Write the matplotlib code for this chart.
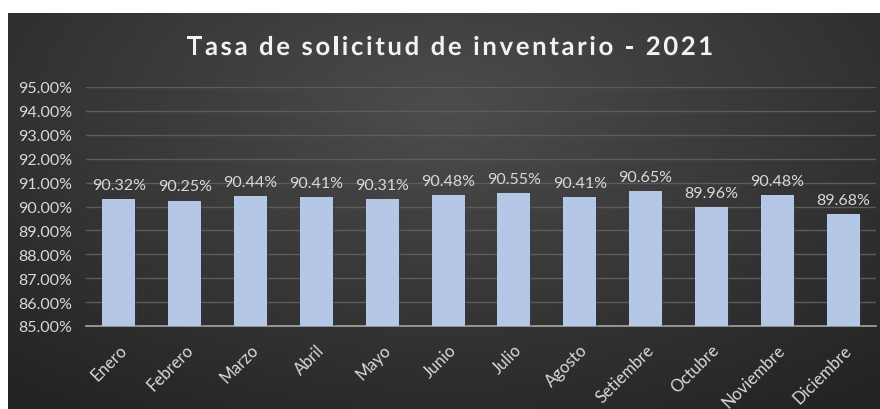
import numpy as np
import matplotlib
matplotlib.use("Agg")
import matplotlib.pyplot as plt
import matplotlib.patheffects as pe
from matplotlib.ticker import FuncFormatter, MultipleLocator

meses = ["Enero", "Febrero", "Marzo", "Abril", "Mayo", "Junio", "Julio",
         "Agosto", "Setiembre", "Octubre", "Noviembre", "Diciembre"]
tasa = [90.32, 90.25, 90.44, 90.41, 90.31, 90.48, 90.55,
        90.41, 90.65, 89.96, 90.48, 89.68]
titulo = "Tasa de solicitud de inventario - 2021"

plt.rcParams["font.family"] = ["Lato", "DejaVu Sans"]
txt = "#d9d9d9"

fig = plt.figure(figsize=(8.8, 4.1), dpi=100)
fig.patch.set_facecolor("white")

# dark radial gradient behind the chart
bg = fig.add_axes([8 / 880, 0, 872 / 880, 396 / 410])
yy, xx = np.mgrid[0:1:200j, 0:1:400j]
r = np.sqrt(((xx - 0.5) / 0.75) ** 2 + ((yy - 0.25) / 0.9) ** 2)
shade = np.clip(0.30 - 0.16 * r, 0.14, 0.30)
bg.imshow(np.dstack([shade] * 3), aspect="auto", extent=[0, 1, 0, 1], origin="upper")
bg.axis("off")

ax = fig.add_axes([86 / 880, 1 - 327 / 410, 790 / 880, 239 / 410])
ax.set_facecolor("none")
x = np.arange(len(meses))
bars = ax.bar(x, tasa, width=0.5, color="#b4c7e7", zorder=3,
              path_effects=[pe.SimplePatchShadow(offset=(1.5, -1.5), alpha=0.35), pe.Normal()])
for b, v in zip(bars, tasa):
    ax.text(b.get_x() + b.get_width() / 2, v + 0.3, f"{v:.2f}%", ha="center",
            va="bottom", color=txt, fontsize=11.5, zorder=4)

ax.set_ylim(85, 95)
ax.set_xlim(-0.5, len(meses) - 0.5)
ax.yaxis.set_major_locator(MultipleLocator(1))
ax.yaxis.set_major_formatter(FuncFormatter(lambda v, _: f"{v:.2f}%"))
ax.grid(axis="y", color="#5c5c5c", linewidth=1, zorder=0)
for s in ["top", "right", "left"]:
    ax.spines[s].set_visible(False)
ax.spines["bottom"].set_color("#a6a6a6")
ax.spines["bottom"].set_linewidth(1.2)
ax.tick_params(axis="both", length=0, colors=txt, labelsize=11.5)
ax.tick_params(axis="y", pad=10)
ax.set_xticks(x)
ax.set_xticklabels(meses, rotation=45, ha="right", rotation_mode="anchor", fontsize=12)
ax.tick_params(axis="x", pad=11)

# title with extra letter spacing, laid out one glyph at a time
renderer = fig.canvas.get_renderer()
spacing = 2.6
kw = dict(color="#f2f2f2", fontsize=18.5, fontweight="bold", va="center",
          path_effects=[pe.withSimplePatchShadow(offset=(1, -1), alpha=0.5)])
widths = []
for ch in titulo:
    t = fig.text(0, 0, ch if ch != " " else "a a", **kw)
    w = t.get_window_extent(renderer).width
    if ch == " ":
        w -= 2 * fig.text(0, 0, "a", **kw).get_window_extent(renderer).width
    widths.append(w)
for t in list(fig.texts):
    t.remove()
total = sum(widths) + spacing * (len(titulo) - 1)
xpos = 450 - total / 2
for ch, w in zip(titulo, widths):
    if ch != " ":
        fig.text(xpos / 880, 1 - 48 / 410, ch, ha="left", **kw)
    xpos += w + spacing

fig.savefig("out.png", dpi=100, facecolor=fig.get_facecolor())
